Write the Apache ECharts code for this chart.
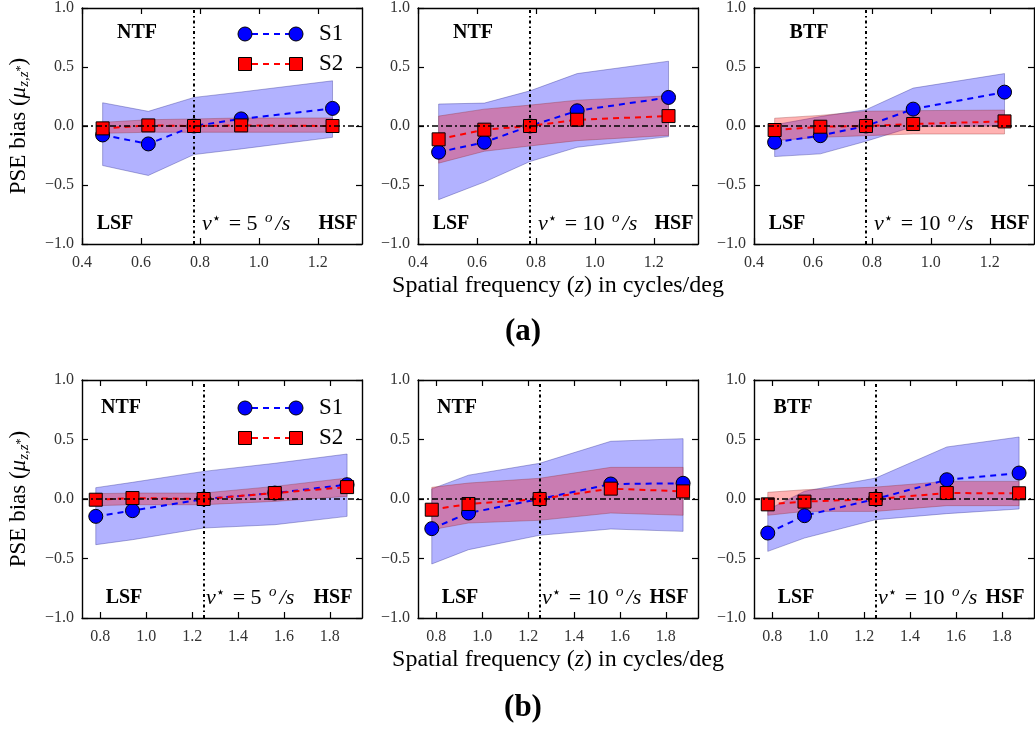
<!DOCTYPE html>
<html><head><meta charset="utf-8">
<script src="https://cdn.jsdelivr.net/npm/echarts@6/dist/echarts.min.js"></script>
<style>html,body{margin:0;padding:0;background:#fff}#c{width:1035px;height:729px}</style>
</head><body><div id="c"></div>
<script>
// ---------- data ----------
const xTop = [0.47, 0.625, 0.78, 0.94, 1.25];
const xBot = [0.78, 0.94, 1.25, 1.56, 1.875];
const xTicksTop = [0.4, 0.6, 0.8, 1.0, 1.2];
const xTicksBot = [0.8, 1.0, 1.2, 1.4, 1.6, 1.8];
const yTicks = [-1.0, -0.5, 0.0, 0.5, 1.0];
const vStarTop = 0.78;
const vStarBot = 1.25;
const seriesNames = ['S1', 'S2'];
const panelTags = ['NTF', 'NTF', 'BTF', 'NTF', 'NTF', 'BTF'];
const panelSpeeds = ['5', '10', '10', '5', '10', '10'];

// (a) left: NTF, 5 deg/s
const a1S1 = [-0.076, -0.152, 0.0, 0.06, 0.149];
const a1S2 = [-0.02, 0.005, 0.0, 0.005, 0.0];
const a1S1Lo = [-0.335, -0.419, -0.242, -0.194, -0.096];
const a1S1Hi = [0.197, 0.124, 0.242, 0.288, 0.383];
const a1S2Lo = [-0.062, -0.053, -0.053, -0.053, -0.053];
const a1S2Hi = [0.031, 0.053, 0.06, 0.068, 0.068];
// (a) middle: NTF, 10 deg/s
const a2S1 = [-0.222, -0.138, 0.0, 0.129, 0.242];
const a2S2 = [-0.113, -0.031, 0.0, 0.053, 0.084];
const a2S1Lo = [-0.624, -0.475, -0.301, -0.18, -0.09];
const a2S1Hi = [0.186, 0.194, 0.298, 0.444, 0.549];
const a2S2Lo = [-0.315, -0.214, -0.169, -0.124, -0.08];
const a2S2Hi = [0.084, 0.143, 0.177, 0.219, 0.256];
// (a) right: BTF, 10 deg/s
const a3S1 = [-0.138, -0.082, 0.0, 0.143, 0.287];
const a3S2 = [-0.034, -0.006, 0.0, 0.017, 0.039];
const a3S1Lo = [-0.259, -0.236, -0.129, -0.006, 0.0];
const a3S1Hi = [0.01, 0.08, 0.138, 0.321, 0.444];
const a3S2Lo = [-0.124, -0.096, -0.082, -0.068, -0.068];
const a3S2Hi = [0.066, 0.09, 0.125, 0.13, 0.135];
// (b) left: NTF, 5 deg/s
const b1S1 = [-0.146, -0.098, 0.0, 0.05, 0.12];
const b1S2 = [-0.006, 0.008, 0.0, 0.05, 0.1];
const b1S1Lo = [-0.384, -0.342, -0.244, -0.216, -0.146];
const b1S1Hi = [0.095, 0.14, 0.232, 0.30, 0.378];
const b1S2Lo = [-0.056, -0.048, -0.048, -0.02, 0.022];
const b1S2Hi = [0.045, 0.05, 0.05, 0.106, 0.176];
// (b) middle: NTF, 10 deg/s
const b2S1 = [-0.249, -0.118, 0.0, 0.126, 0.132];
const b2S2 = [-0.09, -0.042, 0.0, 0.087, 0.064];
const b2S1Lo = [-0.546, -0.426, -0.305, -0.252, -0.272];
const b2S1Hi = [0.085, 0.2, 0.30, 0.485, 0.507];
const b2S2Lo = [-0.258, -0.202, -0.179, -0.118, -0.137];
const b2S2Hi = [0.098, 0.134, 0.174, 0.266, 0.266];
// (b) right: BTF, 10 deg/s
const b3S1 = [-0.286, -0.14, 0.0, 0.162, 0.218];
const b3S2 = [-0.045, -0.022, 0.0, 0.05, 0.048];
const b3S1Lo = [-0.44, -0.328, -0.174, -0.123, -0.084];
const b3S1Hi = [-0.09, 0.065, 0.176, 0.437, 0.521];
const b3S2Lo = [-0.137, -0.104, -0.104, -0.056, -0.056];
const b3S2Hi = [0.056, 0.078, 0.1, 0.148, 0.148];

// ---------- build ----------
const FONT = '"Liberation Serif", "DejaVu Serif", serif';
const panels = [
  {x: xTop, v: vStarTop, ticks: xTicksTop, min: 0.4, max: 1.35, s1: a1S1, s2: a1S2, b1: [a1S1Lo, a1S1Hi], b2: [a1S2Lo, a1S2Hi]},
  {x: xTop, v: vStarTop, ticks: xTicksTop, min: 0.4, max: 1.35, s1: a2S1, s2: a2S2, b1: [a2S1Lo, a2S1Hi], b2: [a2S2Lo, a2S2Hi]},
  {x: xTop, v: vStarTop, ticks: xTicksTop, min: 0.4, max: 1.35, s1: a3S1, s2: a3S2, b1: [a3S1Lo, a3S1Hi], b2: [a3S2Lo, a3S2Hi]},
  {x: xBot, v: vStarBot, ticks: xTicksBot, min: 0.72, max: 1.94, s1: b1S1, s2: b1S2, b1: [b1S1Lo, b1S1Hi], b2: [b1S2Lo, b1S2Hi]},
  {x: xBot, v: vStarBot, ticks: xTicksBot, min: 0.72, max: 1.94, s1: b2S1, s2: b2S2, b1: [b2S1Lo, b2S1Hi], b2: [b2S2Lo, b2S2Hi]},
  {x: xBot, v: vStarBot, ticks: xTicksBot, min: 0.72, max: 1.94, s1: b3S1, s2: b3S2, b1: [b3S1Lo, b3S1Hi], b2: [b3S2Lo, b3S2Hi]}
];
const gridLefts = [82, 418, 754];
const rowTops = [7, 380];
const rowHeights = [237, 238];

const grid = [], xAxis = [], yAxis = [], series = [], graphic = [];
const fmtY = v => (v < 0 ? '\u2212' + Math.abs(v).toFixed(1) : v.toFixed(1));
const fmtX = v => v.toFixed(1);
const tickStyle = {show: true, inside: true, length: 6, lineStyle: {color: '#000', width: 1.2}};
const lineAx = {show: true, onZero: false, lineStyle: {color: '#000', width: 1.4}};
const xName = '{n|Spatial frequency (}{i|z}{n|) in cycles/deg}';
const xNameRich = {n: {fontFamily: FONT, fontSize: 24, color: '#000'}, i: {fontFamily: FONT, fontStyle: 'italic', fontSize: 24, color: '#000'}};
const yName = '{n|PSE bias (}{i|\u03bc}{sub|z,z}{sup|*}{n|)}';
const yNameRich = {
  n: {fontFamily: FONT, fontSize: 23, color: '#000'},
  i: {fontFamily: FONT, fontStyle: 'italic', fontSize: 23, color: '#000'},
  sub: {fontFamily: FONT, fontStyle: 'italic', fontSize: 15, color: '#000', padding: [12, 0, 0, 0]},
  sup: {fontFamily: FONT, fontSize: 12, color: '#000', padding: [4, 0, 0, 0]}
};

function bandRender(fill, stroke) {
  return function (params, api) {
    if (params.dataIndexInside !== 0) return null;
    const n = params.dataInsideLength;
    const up = [], lo = [];
    for (let j = 0; j < n; j++) {
      up.push(api.coord([api.value(0, j), api.value(2, j)]));
      lo.push(api.coord([api.value(0, j), api.value(1, j)]));
    }
    return {type: 'polygon', shape: {points: up.concat(lo.reverse())},
      style: {fill: fill, stroke: stroke, lineWidth: 0.8}};
  };
}

panels.forEach((p, i) => {
  const row = Math.floor(i / 3), col = i % 3;
  grid.push({left: gridLefts[col], top: rowTops[row], width: 280, height: rowHeights[row]});
  const xa = {
    type: 'value', gridIndex: i, min: p.min, max: p.max,
    axisLine: lineAx, splitLine: {show: false},
    axisTick: Object.assign({customValues: p.ticks}, tickStyle),
    axisLabel: {customValues: p.ticks, formatter: fmtX, fontFamily: FONT, fontSize: 16, color: '#333', margin: 11}
  };
  if (col === 1) {
    Object.assign(xa, {name: xName, nameLocation: 'middle', nameGap: 30, nameTextStyle: {rich: xNameRich}});
  }
  xAxis.push(xa);
  xAxis.push({
    type: 'value', gridIndex: i, position: 'top', min: p.min, max: p.max,
    axisLine: lineAx, splitLine: {show: false},
    axisTick: Object.assign({customValues: p.ticks}, tickStyle),
    axisLabel: {show: false, customValues: p.ticks}
  });
  const ya = {
    type: 'value', gridIndex: i, min: -1, max: 1, interval: 0.5,
    axisLine: lineAx, splitLine: {show: false},
    axisTick: tickStyle,
    axisLabel: {formatter: fmtY, fontFamily: FONT, fontSize: 16, color: '#333', margin: 8}
  };
  if (col === 0) {
    Object.assign(ya, {name: yName, nameLocation: 'middle', nameGap: 50, nameTextStyle: {rich: yNameRich}});
  }
  yAxis.push(ya);
  yAxis.push({
    type: 'value', gridIndex: i, position: 'right', min: -1, max: 1, interval: 0.5,
    axisLine: lineAx, splitLine: {show: false}, axisTick: tickStyle, axisLabel: {show: false}
  });
  const xi = 2 * i, yi = 2 * i;
  series.push({
    type: 'custom', xAxisIndex: xi, yAxisIndex: yi, silent: true,
    encode: {x: 0, y: [1, 2]},
    data: p.x.map((x, k) => [x, p.b1[0][k], p.b1[1][k]]),
    renderItem: bandRender('rgba(0,0,255,0.3)', 'rgba(40,40,140,0.45)')
  });
  series.push({
    type: 'custom', xAxisIndex: xi, yAxisIndex: yi, silent: true,
    encode: {x: 0, y: [1, 2]},
    data: p.x.map((x, k) => [x, p.b2[0][k], p.b2[1][k]]),
    renderItem: bandRender('rgba(255,0,0,0.3)', 'rgba(140,40,40,0.4)')
  });
  series.push({
    type: 'line', name: seriesNames[0], xAxisIndex: xi, yAxisIndex: yi, silent: true,
    data: p.x.map((x, k) => [x, p.s1[k]]),
    symbol: 'circle', symbolSize: 14,
    itemStyle: {color: '#0000ff', borderColor: '#000', borderWidth: 1},
    lineStyle: {color: '#0000ff', width: 2, type: [6, 5]},
    markLine: {
      silent: true, symbol: ['none', 'none'], label: {show: false}, animation: false,
      data: [
        {yAxis: 0, lineStyle: {color: '#000', width: 1.6, type: [6, 3, 2, 3]}},
        {xAxis: p.v, lineStyle: {color: '#000', width: 2, type: [3, 3, 1.5, 3]}}
      ]
    }
  });
  series.push({
    type: 'line', name: seriesNames[1], xAxisIndex: xi, yAxisIndex: yi, silent: true,
    data: p.x.map((x, k) => [x, p.s2[k]]),
    symbol: 'rect', symbolSize: 13,
    itemStyle: {color: '#ff0000', borderColor: '#000', borderWidth: 1},
    lineStyle: {color: '#ff0000', width: 2, type: [6, 5]}
  });

  // panel annotations
  const gx = gridLefts[col], gy = rowTops[row], gh = rowHeights[row];
  const topOff = row === 0 ? 26 : 28;
  const tagX = row === 0 ? 55 : 39;
  const lsfX = row === 0 ? 33 : 42;
  const hsfX = row === 0 ? 256 : 251;
  const vX = row === 0 ? 120 : 124;
  const bold = {fontFamily: FONT, fontWeight: 'bold', fontSize: 20, fill: '#000', align: 'center', verticalAlign: 'middle'};
  graphic.push({type: 'text', x: gx + tagX, y: gy + topOff, style: Object.assign({text: panelTags[i]}, bold), z: 100});
  graphic.push({type: 'text', x: gx + lsfX, y: gy + gh - 20, style: Object.assign({text: 'LSF'}, bold), z: 100});
  graphic.push({type: 'text', x: gx + hsfX, y: gy + gh - 20, style: Object.assign({text: 'HSF'}, bold), z: 100});
  graphic.push({type: 'text', x: gx + vX, y: gy + gh - 20, z: 100, style: {
    text: '{i|v}{st|\u22c6}{n| = ' + panelSpeeds[i] + ' }{so|o}{i|/s}',
    verticalAlign: 'middle', align: 'left',
    rich: {
      i: {fontFamily: FONT, fontStyle: 'italic', fontSize: 22, fill: '#000'},
      n: {fontFamily: FONT, fontSize: 22, fill: '#000', padding: [0, 2, 0, 2]},
      st: {fontFamily: '"DejaVu Sans", sans-serif', fontSize: 15, fill: '#000', padding: [0, 0, 9, 0]},
      so: {fontFamily: FONT, fontStyle: 'italic', fontSize: 15, fill: '#000', padding: [0, 3, 11, 0]}
    }
  }});
});

// legends (drawn on the left panel of each row)
[34, 408].forEach(y0 => {
  const y1 = y0 + 30;
  graphic.push({type: 'line', shape: {x1: 252, y1: y0, x2: 290, y2: y0}, style: {stroke: '#0000ff', lineWidth: 2, lineDash: [6, 5]}, z: 100});
  graphic.push({type: 'circle', shape: {cx: 245, cy: y0, r: 7}, style: {fill: '#0000ff', stroke: '#000', lineWidth: 1}, z: 101});
  graphic.push({type: 'circle', shape: {cx: 296, cy: y0, r: 7}, style: {fill: '#0000ff', stroke: '#000', lineWidth: 1}, z: 101});
  graphic.push({type: 'text', x: 319, y: y0, style: {text: seriesNames[0], fontFamily: FONT, fontSize: 23, fill: '#000', verticalAlign: 'middle'}, z: 101});
  graphic.push({type: 'line', shape: {x1: 252, y1: y1, x2: 290, y2: y1}, style: {stroke: '#ff0000', lineWidth: 2, lineDash: [6, 5]}, z: 100});
  graphic.push({type: 'rect', shape: {x: 238.5, y: y1 - 6.5, width: 13, height: 13}, style: {fill: '#ff0000', stroke: '#000', lineWidth: 1}, z: 101});
  graphic.push({type: 'rect', shape: {x: 289.5, y: y1 - 6.5, width: 13, height: 13}, style: {fill: '#ff0000', stroke: '#000', lineWidth: 1}, z: 101});
  graphic.push({type: 'text', x: 319, y: y1, style: {text: seriesNames[1], fontFamily: FONT, fontSize: 23, fill: '#000', verticalAlign: 'middle'}, z: 101});
});
// sub-figure captions
graphic.push({type: 'text', x: 523, y: 332, style: {text: '(a)', fontFamily: FONT, fontWeight: 'bold', fontSize: 31, fill: '#000', align: 'center', verticalAlign: 'middle'}});
graphic.push({type: 'text', x: 523, y: 708, style: {text: '(b)', fontFamily: FONT, fontWeight: 'bold', fontSize: 31, fill: '#000', align: 'center', verticalAlign: 'middle'}});

const chart = echarts.init(document.getElementById('c'), null, {renderer: 'canvas'});
chart.setOption({animation: false, backgroundColor: '#fff', grid, xAxis, yAxis, series, graphic});
</script></body></html>
